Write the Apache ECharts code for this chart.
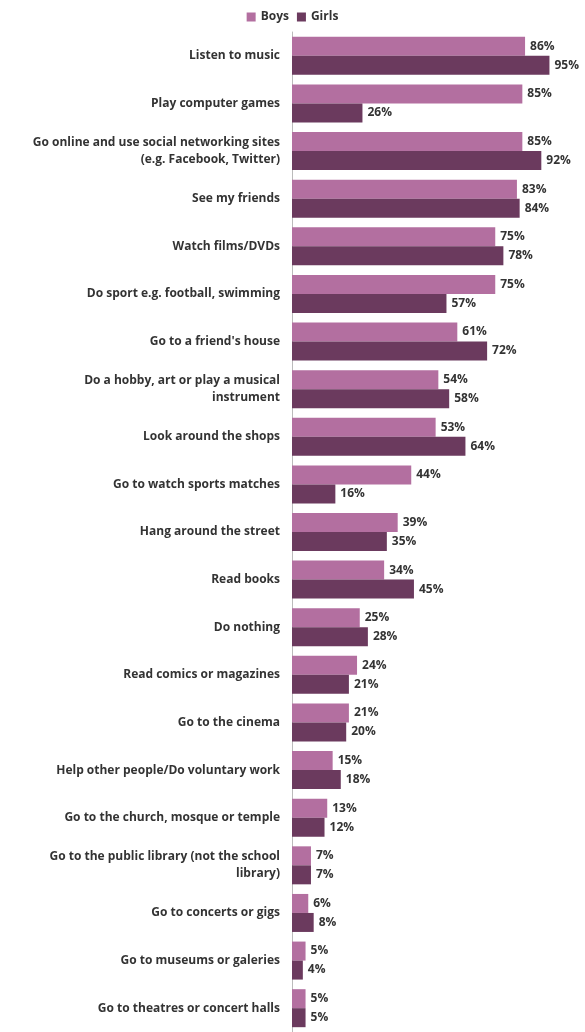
<!DOCTYPE html>
<html>
<head>
<meta charset="utf-8">
<script src="https://cdn.jsdelivr.net/npm/echarts@6/dist/echarts.min.js"></script>
<style>html,body{margin:0;padding:0;background:#fff}</style>
</head>
<body>
<div id="chart" style="width:585px;height:1032px"></div>
<script>
// 类别和数据
var categories = [
  "Listen to music", "Play computer games",
  "Go online and use social networking sites\n(e.g. Facebook, Twitter)",
  "See my friends", "Watch films/DVDs", "Do sport e.g. football, swimming",
  "Go to a friend's house", "Do a hobby, art or play a musical\ninstrument",
  "Look around the shops", "Go to watch sports matches", "Hang around the street",
  "Read books", "Do nothing", "Read comics or magazines", "Go to the cinema",
  "Help other people/Do voluntary work", "Go to the church, mosque or temple",
  "Go to the public library (not the school\nlibrary)", "Go to concerts or gigs",
  "Go to museums or galeries", "Go to theatres or concert halls"
];
var boys = [86, 85, 85, 83, 75, 75, 61, 54, 53, 44, 39, 34, 25, 24, 21, 15, 13, 7, 6, 5, 5];
var girls = [95, 26, 92, 84, 78, 57, 72, 58, 64, 16, 35, 45, 28, 21, 20, 18, 12, 7, 8, 4, 5];

var myChart = echarts.init(document.getElementById("chart"));
var labelStyle = {
  show: true,
  position: "right",
  formatter: "{c}%",
  color: "#333",
  fontWeight: "bold",
  fontSize: 12,
  fontFamily: "Open Sans"
};
myChart.setOption({
  animation: false,
  color: ["#b36fa0", "#6b3a5e"],
  legend: {
    top: 6,
    left: "center",
    itemWidth: 9,
    itemHeight: 9,
    itemGap: 8,
    icon: "rect",
    textStyle: { color: "#333", fontWeight: "bold", fontSize: 12, fontFamily: "Open Sans" },
    data: ["Boys", "Girls"]
  },
  grid: { left: 292, right: 22, top: 32, bottom: 0 },
  xAxis: {
    type: "value",
    min: 0,
    max: 100,
    show: false
  },
  yAxis: {
    type: "category",
    inverse: true,
    data: categories,
    axisLine: { show: true, lineStyle: { color: "#bbb" } },
    axisTick: { show: false },
    axisLabel: {
      color: "#333",
      fontWeight: "bold",
      fontSize: 12,
      fontFamily: "Open Sans",
      margin: 12,
      lineHeight: 17
    }
  },
  series: [
    { name: "Boys", type: "bar", data: boys, barWidth: 19, barGap: "0%", label: labelStyle },
    { name: "Girls", type: "bar", data: girls, barWidth: 19, barGap: "0%", label: labelStyle }
  ]
});
</script>
</body>
</html>
